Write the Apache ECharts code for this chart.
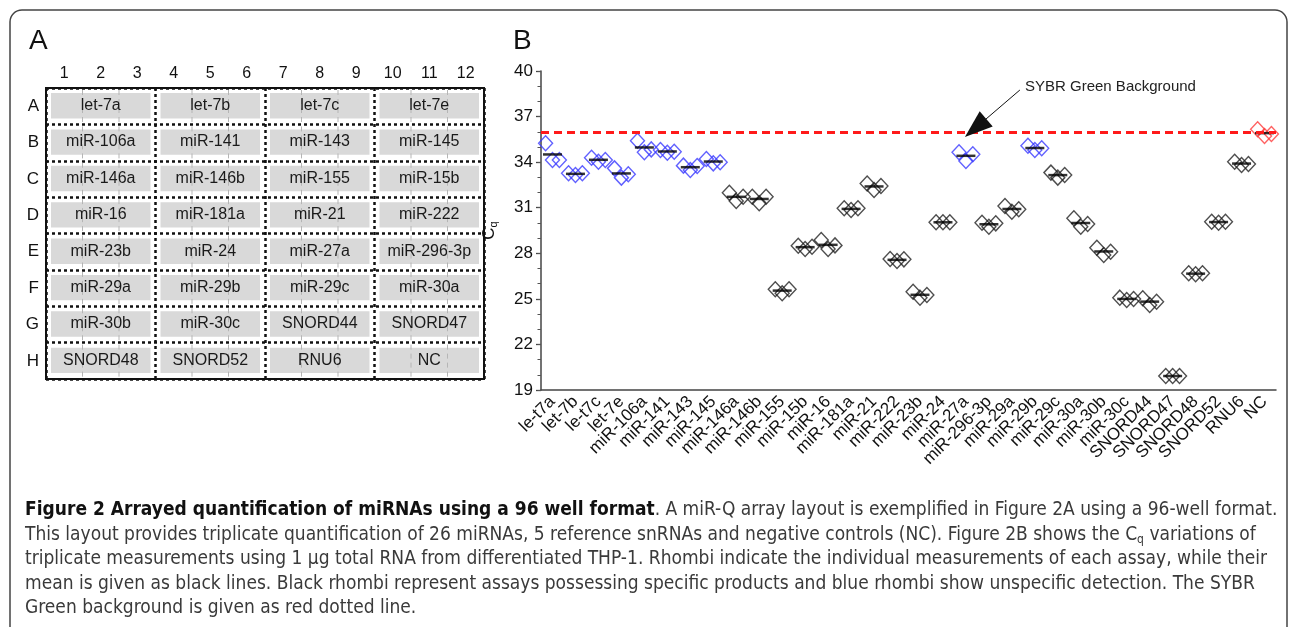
<!DOCTYPE html>
<html>
<head>
<meta charset="utf-8">
<script src="https://cdn.jsdelivr.net/npm/echarts@6/dist/echarts.min.js"></script>
<style>
html, body { margin: 0; padding: 0; background: #fff; }
#chart { width: 1292px; height: 627px; }
</style>
</head>
<body>
<div id="chart"></div>
<script>
// panel A: plate layout
const plateCols = ['1', '2', '3', '4', '5', '6', '7', '8', '9', '10', '11', '12'];
const plateRows = ['A', 'B', 'C', 'D', 'E', 'F', 'G', 'H'];
const plateLayout = [
    ['let-7a', 'let-7b', 'let-7c', 'let-7e'],
    ['miR-106a', 'miR-141', 'miR-143', 'miR-145'],
    ['miR-146a', 'miR-146b', 'miR-155', 'miR-15b'],
    ['miR-16', 'miR-181a', 'miR-21', 'miR-222'],
    ['miR-23b', 'miR-24', 'miR-27a', 'miR-296-3p'],
    ['miR-29a', 'miR-29b', 'miR-29c', 'miR-30a'],
    ['miR-30b', 'miR-30c', 'SNORD44', 'SNORD47'],
    ['SNORD48', 'SNORD52', 'RNU6', 'NC']
];

// panel B: Cq of the triplicates (left, middle, right)
const assays = ['le-t7a', 'let-7b', 'le-t7c', 'let-7e', 'miR-106a', 'miR-141', 'miR-143', 'miR-145',
    'miR-146a', 'miR-146b', 'miR-155', 'miR-15b', 'miR-16', 'miR-181a', 'miR-21', 'miR-222',
    'miR-23b', 'miR-24', 'miR-27a', 'miR-296-3p', 'miR-29a', 'miR-29b', 'miR-29c', 'miR-30a',
    'miR-30b', 'miR-30c', 'SNORD44', 'SNORD47', 'SNORD48', 'SNORD52', 'RNU6', 'NC'];
const rep1 = [35.24, 33.27, 34.29, 33.59, 35.41, 34.80, 33.77, 34.21,
    31.99, 31.72, 25.63, 28.50, 28.87, 30.96, 32.60, 27.62,
    25.47, 30.04, 34.65, 30.01, 31.11, 35.08, 33.31, 30.30,
    28.37, 25.08, 25.04, 19.92, 26.68, 30.08, 34.03, 36.16];
const rep2 = [34.14, 33.15, 34.03, 32.98, 34.65, 34.62, 33.48, 33.92,
    31.44, 31.29, 25.37, 28.28, 28.28, 30.85, 32.17, 27.49,
    25.08, 30.04, 34.08, 29.75, 30.74, 34.80, 32.98, 29.75,
    27.89, 24.92, 24.60, 19.92, 26.62, 30.01, 33.81, 35.72];
const rep3 = [34.14, 33.27, 34.14, 33.20, 34.84, 34.69, 33.75, 33.99,
    31.72, 31.72, 25.63, 28.43, 28.52, 30.96, 32.43, 27.60,
    25.25, 30.04, 34.52, 29.97, 30.90, 34.91, 33.15, 29.93,
    28.10, 24.99, 24.81, 19.92, 26.68, 30.08, 33.88, 35.85];
const blueAssays = ['le-t7a', 'let-7b', 'le-t7c', 'let-7e', 'miR-106a', 'miR-141', 'miR-143', 'miR-145', 'miR-27a', 'miR-29b'];
const redAssays = ['NC'];
const background = 36;
const yMajorTicks = [19, 22, 25, 28, 31, 34, 37, 40];

const caption = [
    '{b|Figure 2 Arrayed quantification of miRNAs using a 96 well format}. A miR-Q array layout is exemplified in Figure 2A using a 96-well format.',
    'This layout provides triplicate quantification of 26 miRNAs, 5 reference snRNAs and negative controls (NC). Figure 2B shows the C{s|q} variations of',
    'triplicate measurements using 1 \u03bcg total RNA from differentiated THP-1. Rhombi indicate the individual measurements of each assay, while their',
    'mean is given as black lines. Black rhombi represent assays possessing specific products and blue rhombi show unspecific detection. The SYBR',
    'Green background is given as red dotted line.'
];

const font = '"Liberation Sans", Arial, sans-serif';
const capFont = '"Liberation Sans Narrow", "DejaVu Sans Condensed", sans-serif';
const jitter = [-0.3, 0, 0.3];

const plateCells = [];
plateLayout.forEach(function (row, r) {
    row.forEach(function (name, b) {
        plateCells.push([b * 3 + 1, r]);
    });
});
const plateNames = plateLayout.flat();

const pts = { blue: [], black: [], red: [] };
const means = [];
assays.forEach(function (a, i) {
    const key = blueAssays.includes(a) ? 'blue' : (redAssays.includes(a) ? 'red' : 'black');
    [rep1[i], rep2[i], rep3[i]].forEach(function (v, k) {
        pts[key].push([i + jitter[k], v]);
    });
    means.push([i, (rep1[i] + rep2[i] + rep3[i]) / 3]);
});

function diamonds(data, color) {
    return {
        type: 'scatter',
        xAxisIndex: 2,
        yAxisIndex: 1,
        data: data,
        symbol: 'diamond',
        symbolSize: [14, 15],
        itemStyle: { color: 'rgba(255,255,255,0)', borderColor: color, borderWidth: 1.4 },
        silent: true,
        z: 3
    };
}

const chart = echarts.init(document.getElementById('chart'));

const option = {
    animation: false,
    textStyle: { fontFamily: font },
    grid: [
        { left: 46, top: 88, width: 438, height: 291, show: true, borderColor: '#111', borderWidth: 2, backgroundColor: '#fff' },
        { left: 541, top: 71, right: 16, height: 319 }
    ],
    xAxis: [
        {
            type: 'category', gridIndex: 0, position: 'top', data: plateCols,
            axisLine: { show: false }, axisTick: { show: false },
            axisLabel: { fontSize: 16, color: '#111', margin: 6 },
            splitLine: {
                show: true, interval: function (i) { return i % 3 === 0; },
                lineStyle: { color: '#111', width: 2.5, type: [3, 3] }
            }
        },
        {
            type: 'category', gridIndex: 1, data: assays, boundaryGap: true,
            axisLine: { onZero: false, lineStyle: { color: '#444', width: 1.5 } },
            axisTick: { alignWithLabel: true, length: 6, lineStyle: { color: '#444', width: 1.3 } },
            axisLabel: { rotate: 45, fontSize: 17, color: '#111', margin: 9, interval: 0 }
        },
        { type: 'value', gridIndex: 1, min: -0.5, max: 31.5, show: false }
    ],
    yAxis: [
        {
            type: 'category', gridIndex: 0, data: plateRows, inverse: true,
            axisLine: { show: false }, axisTick: { show: false },
            axisLabel: { fontSize: 17, color: '#111', margin: 7 },
            splitLine: { show: true, lineStyle: { color: '#111', width: 2.5, type: [3, 3] } }
        },
        {
            type: 'value', gridIndex: 1, min: 19, max: 40, position: 'left',
            name: '{c|C}{q|q}', nameLocation: 'middle', nameGap: 42, nameRotate: 90,
            nameTextStyle: {
                rich: {
                    c: { fontSize: 17, color: '#111', fontFamily: font },
                    q: { fontSize: 11, color: '#111', fontFamily: font, verticalAlign: 'bottom', padding: [8, 0, 0, 0] }
                }
            },
            axisLine: { show: true, onZero: false, lineStyle: { color: '#444', width: 1.5 } },
            axisTick: { show: true, length: 5, customValues: yMajorTicks, lineStyle: { color: '#444', width: 1.3 } },
            axisLabel: { fontSize: 17, color: '#111', margin: 8, customValues: yMajorTicks },
            splitLine: { show: false }
        },
        {
            type: 'value', gridIndex: 1, min: 19, max: 40, interval: 1, position: 'left', offset: 0,
            axisLine: { show: false, onZero: false },
            axisTick: { show: true, length: 3.5, lineStyle: { color: '#555', width: 1 } },
            axisLabel: { show: false },
            splitLine: { show: false }
        }
    ],
    graphic: [
        { type: 'rect', shape: { x: 10, y: 10, width: 1277, height: 700, r: 12 }, style: { fill: 'none', stroke: '#444', lineWidth: 1.5 }, silent: true },
        { type: 'text', x: 29, y: 27, style: { text: 'A', font: '28px "Liberation Sans"', fill: '#111' } },
        { type: 'text', x: 513, y: 27, style: { text: 'B', font: '28px "Liberation Sans"', fill: '#111' } },
        { type: 'text', x: 1025, y: 79, style: { text: 'SYBR Green Background', font: '15px "Liberation Sans"', fill: '#222' } }
    ].concat(caption.map(function (line, i) {
        return {
            type: 'text', x: 25, y: 510 + i * 24.6,
            style: {
                text: line, fontFamily: capFont, fontSize: 19, fill: '#3a3a3a', verticalAlign: 'middle',
                rich: {
                    b: { fontFamily: capFont, fontSize: 19, fontWeight: 'bold', fill: '#111' },
                    s: { fontFamily: capFont, fontSize: 12, fill: '#3a3a3a', padding: [10, 0, 0, 0] }
                }
            }
        };
    })),
    series: [
        {
            type: 'custom',
            xAxisIndex: 0, yAxisIndex: 0,
            data: plateCells,
            silent: true,
            renderItem: function (params, api) {
                const c = api.coord([api.value(0), api.value(1)]);
                const s = api.size([1, 1]);
                const x0 = c[0] - s[0] * 1.5;
                const y0 = c[1] - s[1] / 2;
                const children = [{
                    type: 'rect',
                    shape: { x: x0 + 5, y: y0 + 5, width: s[0] * 3 - 10, height: s[1] - 11 },
                    style: { fill: '#d9d9d9' }
                }];
                [1, 2].forEach(function (k) {
                    children.push({
                        type: 'line',
                        shape: { x1: x0 + k * s[0], y1: y0 + 2, x2: x0 + k * s[0], y2: y0 + s[1] - 2 },
                        style: { stroke: '#b5b5b5', lineWidth: 1, lineDash: [5, 4] }
                    });
                });
                children.push({
                    type: 'text',
                    x: c[0], y: c[1] - 0.5,
                    style: {
                        text: plateNames[params.dataIndex], font: '16px "Liberation Sans"',
                        fill: '#1a1a1a', align: 'center', verticalAlign: 'middle'
                    }
                });
                return { type: 'group', children: children };
            }
        },
        diamonds(pts.blue, '#3a3aff'),
        diamonds(pts.black, '#222'),
        diamonds(pts.red, '#ff3b3b'),
        {
            type: 'scatter', xAxisIndex: 2, yAxisIndex: 1,
            data: means, symbol: 'rect', symbolSize: [19, 2.5],
            itemStyle: { color: '#000' }, silent: true, z: 4,
            markLine: {
                silent: true,
                symbol: 'none',
                label: { show: false },
                lineStyle: { color: '#ff1a1a', width: 3, type: [8, 5] },
                data: [{ yAxis: background }]
            }
        },
        {
            type: 'scatter', xAxisIndex: 2, yAxisIndex: 1, data: [],
            markLine: {
                silent: true,
                symbol: ['none', 'triangle'],
                symbolSize: [20, 28],
                label: { show: false },
                lineStyle: { color: '#111', width: 1, type: 'solid' },
                data: [[{ coord: [20.35, 38.75] }, { coord: [18.42, 36.25] }]]
            }
        }
    ]
};

chart.setOption(option);
</script>
</body>
</html>
